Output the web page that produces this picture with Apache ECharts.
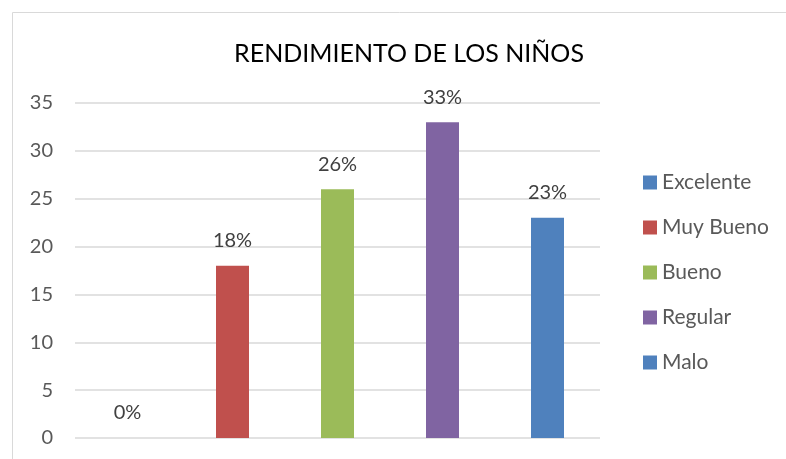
<!DOCTYPE html>
<html>
<head>
<meta charset="utf-8">
<script src="https://cdn.jsdelivr.net/npm/echarts@6/dist/echarts.min.js"></script>
<style>
  html, body { margin: 0; padding: 0; background: #fff; }
  #chart { width: 786px; height: 459px; }
</style>
</head>
<body>
<div id="chart"></div>
<script>
// data
var categories = ['Excelente', 'Muy Bueno', 'Bueno', 'Regular', 'Malo'];
var values = [0, 18, 26, 33, 23];
var percentLabels = ['0%', '18%', '26%', '33%', '23%'];
var yTicks = [0, 5, 10, 15, 20, 25, 30, 35];

var colors = ['#4F81BD', '#C0504D', '#9BBB59', '#8064A2', '#4F81BD'];
var fontFamily = 'Lato, "Open Sans", sans-serif';

// one series per category so the legend lists each one
var series = categories.map(function (name, i) {
  var data = categories.map(function (c, j) { return j === i ? values[i] : '-'; });
  return {
    name: name,
    type: 'bar',
    stack: 'all',
    barWidth: 33,
    data: data,
    itemStyle: { color: colors[i] },
    label: {
      show: true,
      position: 'top',
      distance: 15,
      color: '#404040',
      fontSize: 20,
      fontFamily: fontFamily,
      formatter: function () { return percentLabels[i]; }
    }
  };
});

var option = {
  animation: false,
  title: {
    text: 'RENDIMIENTO DE LOS NIÑOS',
    left: 404,
    textAlign: 'center',
    top: 36,
    textStyle: { color: '#000', fontSize: 25, fontWeight: 'normal', fontFamily: fontFamily }
  },
  legend: {
    orient: 'vertical',
    left: 638,
    top: 167,
    itemWidth: 14,
    itemHeight: 14,
    itemGap: 24,
    icon: 'rect',
    textStyle: { color: '#595959', fontSize: 21, fontFamily: fontFamily },
    data: categories
  },
  grid: { left: 75, right: 186, top: 103, bottom: 21 },
  xAxis: {
    type: 'category',
    data: categories,
    axisLine: { show: false },
    axisTick: { show: false },
    axisLabel: { show: false }
  },
  yAxis: {
    type: 'value',
    min: yTicks[0],
    max: yTicks[yTicks.length - 1],
    interval: 5,
    axisLine: { show: false },
    axisTick: { show: false },
    axisLabel: { color: '#595959', fontSize: 20, fontFamily: fontFamily, margin: 22 },
    splitLine: { lineStyle: { color: '#d9d9d9', width: 1.5 } }
  },
  graphic: [{
    type: 'rect',
    shape: { x: 12.5, y: 12.5, width: 800, height: 500 },
    style: { fill: 'none', stroke: '#d9d9d9', lineWidth: 1 },
    silent: true
  }],
  series: series
};

var myChart = echarts.init(document.getElementById('chart'));
myChart.setOption(option);
</script>
</body>
</html>
